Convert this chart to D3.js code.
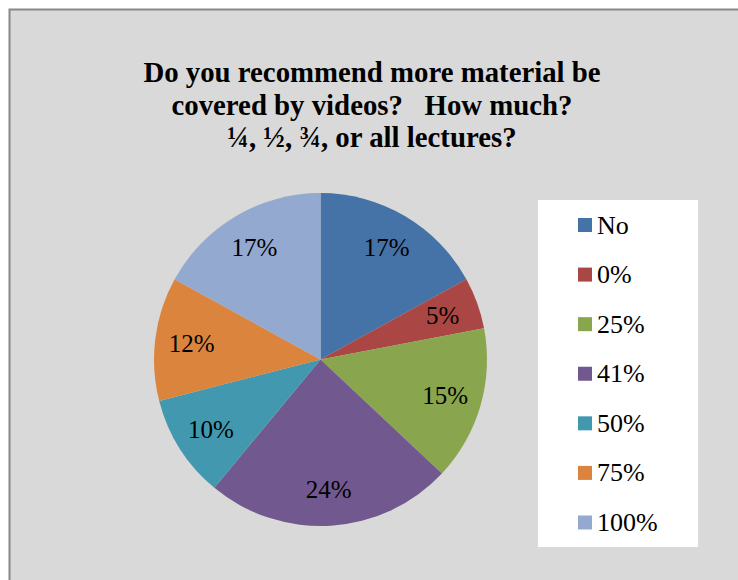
<!DOCTYPE html>
<html>
<head>
<meta charset="utf-8">
<script src="https://cdn.jsdelivr.net/npm/d3@7"></script>
<style>
  html, body { margin: 0; padding: 0; background: #ffffff; }
  svg { display: block; }
</style>
</head>
<body>
<svg id="chart" width="738" height="580"></svg>
<script>
// Survey answers and their share of responses (percent)
const categories = ["No", "0%", "25%", "41%", "50%", "75%", "100%"];
const shares = [17, 5, 15, 24, 10, 12, 17];
const colors = ["#4572A7", "#AA4643", "#89A54E", "#71588F", "#4198AF", "#DB843D", "#93A9CF"];
const titleLines = [
  "Do you recommend more material be",
  "covered by videos?\u00A0\u00A0\u00A0How much?",
  "\u00BC, \u00BD, \u00BE, or all lectures?"
];

const svg = d3.select("#chart");
const font = "'Liberation Serif', 'Times New Roman', serif";

// Chart area: grey panel with a dark frame running off the right and bottom
svg.append("rect")
  .attr("x", 9.5).attr("y", 9.5)
  .attr("width", 760).attr("height", 600)
  .attr("fill", "#d9d9d9")
  .attr("stroke", "#888888")
  .attr("stroke-width", 2);

// Title
const title = svg.append("text")
  .attr("text-anchor", "middle")
  .attr("font-family", font)
  .attr("font-weight", "bold")
  .attr("font-size", 28.8)
  .attr("fill", "#000");
titleLines.forEach((line, i) => {
  title.append("tspan")
    .attr("x", 372)
    .attr("y", 82 + i * 32.5)
    .text(line);
});

// Pie
const cx = 320.5, cy = 359.5, radius = 166.5;
const pie = d3.pie().sort(null).value(d => d)
  .startAngle(0).endAngle(2 * Math.PI);
const arcs = pie(shares);
const arc = d3.arc().innerRadius(0).outerRadius(radius);
const labelArc = d3.arc().innerRadius(radius * 0.78).outerRadius(radius * 0.78);

const g = svg.append("g").attr("transform", `translate(${cx},${cy})`);
g.selectAll("path.slice")
  .data(arcs)
  .join("path")
  .attr("class", "slice")
  .attr("d", arc)
  .attr("fill", (d, i) => colors[i]);

g.selectAll("text.pct")
  .data(arcs)
  .join("text")
  .attr("class", "pct")
  .attr("x", d => labelArc.centroid(d)[0])
  .attr("y", d => labelArc.centroid(d)[1] + 8.5)
  .attr("text-anchor", "middle")
  .attr("font-family", font)
  .attr("font-size", 25)
  .attr("fill", "#000")
  .text(d => d.data + "%");

// Legend
const legend = svg.append("g");
legend.append("rect")
  .attr("x", 538).attr("y", 200)
  .attr("width", 160).attr("height", 347)
  .attr("fill", "#ffffff");

const rowY = d3.scalePoint().domain(categories).range([225, 522.5]);
const rows = legend.selectAll("g.item")
  .data(categories)
  .join("g")
  .attr("class", "item")
  .attr("transform", d => `translate(0,${rowY(d)})`);
rows.append("rect")
  .attr("x", 578).attr("y", -7)
  .attr("width", 14).attr("height", 14)
  .attr("fill", (d, i) => colors[i]);
rows.append("text")
  .attr("x", 597).attr("y", 8.5)
  .attr("font-family", font)
  .attr("font-size", 26)
  .attr("fill", "#000")
  .text(d => d);
</script>
</body>
</html>
